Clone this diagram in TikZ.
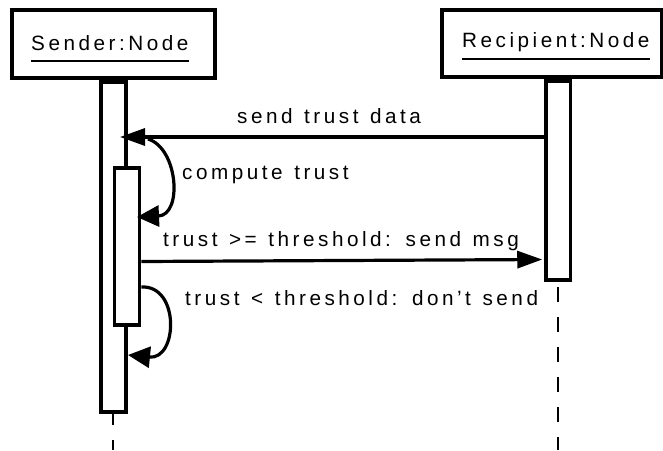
\documentclass[tikz,border=0pt]{standalone}
\usepackage{fontspec}
\newfontfamily\lblfont{Liberation Sans}[LetterSpace=17,WordSpace=1.25]
\usetikzlibrary{arrows.meta}
\begin{document}
\begin{tikzpicture}[x=1pt,y=-1pt,
  objbox/.style={draw,line width=3.5pt,fill=white,inner sep=0pt},
  actbar/.style={draw,line width=3.5pt,fill=white,inner sep=0pt,minimum width=25pt},
  lifeline/.style={line width=2.2pt,dash pattern=on 15pt off 15pt},
  msgarrow/.style={line width=3.2pt,-{Triangle[length=25pt,width=17pt]}},
  selfarrow/.style={line width=3.2pt,-{Triangle[length=22pt,width=21pt]}},
  lbl/.style={anchor=base west,inner sep=0pt,font=\lblfont\fontsize{20.7}{24}\selectfont},
  uline/.style={line width=1.8pt}
]
\useasboundingbox (0,0) rectangle (663,450);
% object boxes
\node[objbox,minimum width=203pt,minimum height=68pt] (sbox) at (113.5,44) {};
\node[objbox,minimum width=219.5pt,minimum height=67pt] (rbox) at (551.75,43.5) {};
% activation bars
\node[actbar,minimum height=330pt] (sact) at (113.25,247) {};
\node[actbar,minimum height=157pt] (iact) at (127.2,246.5) {};
\node[actbar,minimum width=24.5pt,minimum height=199pt] (ract) at (558.25,180.5) {};
% lifelines
\coordinate (send) at (113.25,450);
\coordinate (rend) at (558.25,450);
\draw[lifeline,dash phase=4pt] (sact.south) -- (send);
\draw[lifeline,dash phase=25pt] (ract.south) -- (rend);
% labels
\node[lbl] (sname) at (31,50) {Sender:Node};
\node[lbl] (rname) at (462,47.3) {Recipient:Node};
\draw[uline] ([yshift=-11pt]sname.base west) -- ([yshift=-11pt]sname.base east);
\draw[uline] ([yshift=-12pt]rname.base west) -- ([yshift=-12pt]rname.base east);
\node[lbl] (l1) at (237,123) {send trust data};
\node[lbl] (l2) at (182,179) {compute trust};
\node[lbl] (l3) at (163,246) {trust >= threshold: send msg};
\node[lbl] (l4) at (185,305) {trust < threshold: don’t send};
% messages
\coordinate (t1) at (120,137);
\draw[msgarrow] (ract.west |- 0,137) -- (t1);
\coordinate (c1s) at (148,139);
\coordinate (c1e) at (137,217);
\draw[selfarrow] (c1s) .. controls (178,148) and (183,215) .. (c1e);
\draw[msgarrow,shorten >=2pt] (iact.east |- 0,261.5) -- (ract.west |- 0,259.5);
\coordinate (c2s) at (iact.east |- 0,287);
\coordinate (c2e) at (128,355);
\draw[selfarrow] (c2s) .. controls (180,285) and (178,360) .. (c2e);
\end{tikzpicture}
\end{document}
